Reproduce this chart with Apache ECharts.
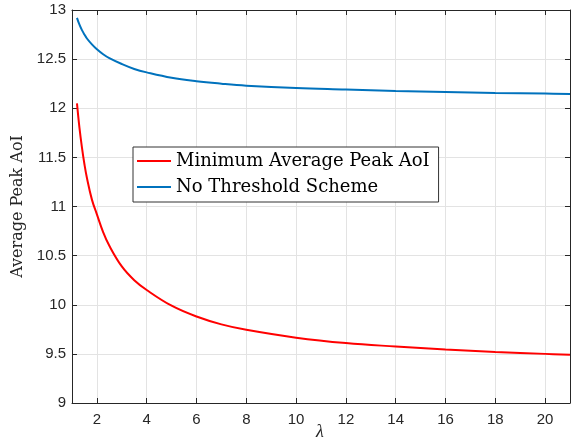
<!DOCTYPE html>
<html>
<head>
<meta charset="utf-8">
<script src="https://cdn.jsdelivr.net/npm/echarts@6/dist/echarts.min.js"></script>
<style>html,body{margin:0;padding:0;background:#fff;overflow:hidden}#c{width:576px;height:441px}</style>
</head>
<body>
<div id="c"></div>
<script>
var lambdaVals = [1.2, 1.3, 1.4, 1.5, 1.6, 1.8, 2, 2.25, 2.5, 3, 3.5, 4, 5, 6, 7, 8, 10, 12, 14, 16, 18, 20, 21];
var minAvgPeak = [12.05, 11.80, 11.60, 11.43, 11.29, 11.07, 10.92, 10.74, 10.60, 10.39, 10.25, 10.15, 9.99, 9.88, 9.80, 9.745, 9.665, 9.61, 9.575, 9.545, 9.52, 9.50, 9.49];
var noThreshold = [12.92, 12.85, 12.795, 12.75, 12.71, 12.65, 12.60, 12.55, 12.51, 12.45, 12.40, 12.365, 12.31, 12.275, 12.25, 12.23, 12.205, 12.19, 12.175, 12.165, 12.155, 12.15, 12.145];
var xTicks = [2, 4, 6, 8, 10, 12, 14, 16, 18, 20];
var seriesNames = ['Minimum Average Peak AoI', 'No Threshold Scheme'];
var xAxisTitle = 'λ';
var yAxisTitle = 'Average Peak AoI';

function pairs(xs, ys) { return xs.map(function (x, i) { return [x, ys[i]]; }); }

var axisColor = '#262626';
var gridColor = '#e3e3e3';
var serif = 'DejaVu Serif, Liberation Serif, serif';
var labelFont = { fontFamily: 'Liberation Sans, Arial, sans-serif', fontSize: 15, color: axisColor };

var chart = echarts.init(document.getElementById('c'), null, { renderer: 'canvas', width: 576, height: 441 });
chart.setOption({
  animation: false,
  backgroundColor: '#fff',
  grid: { left: 72, right: 6, top: 10, bottom: 38, containLabel: false, outerBoundsMode: 'none' },
  graphic: [{
    type: 'text', left: 316, top: 423,
    style: { text: xAxisTitle, fontFamily: 'Liberation Serif, serif', fontStyle: 'italic', fontSize: 18, fill: axisColor }
  }],
  legend: {
    orient: 'vertical', left: 133, top: 147,
    icon: 'rect', itemWidth: 34, itemHeight: 2, itemGap: 4,
    padding: [3, 9, 4, 4],
    backgroundColor: '#fff', borderColor: '#333', borderWidth: 1,
    textStyle: { fontFamily: serif, fontSize: 18, color: '#000', lineHeight: 22 },
    data: seriesNames
  },
  xAxis: [{
    type: 'value', min: 1, max: 21,
    axisLine: { show: true, onZero: false, lineStyle: { color: axisColor, width: 1 } },
    axisTick: { show: true, inside: true, length: 5, customValues: xTicks, lineStyle: { color: axisColor } },
    axisLabel: Object.assign({ customValues: xTicks, margin: 9 }, labelFont),
    splitLine: { show: true, lineStyle: { color: gridColor, width: 1 } }
  }, {
    type: 'value', min: 1, max: 21, position: 'top',
    axisLine: { show: true, onZero: false, lineStyle: { color: axisColor, width: 1 } },
    axisTick: { show: true, inside: true, length: 5, customValues: xTicks, lineStyle: { color: axisColor } },
    axisLabel: { show: false },
    splitLine: { show: false }
  }],
  yAxis: [{
    type: 'value', min: 9, max: 13, interval: 0.5,
    name: yAxisTitle, nameLocation: 'middle', nameGap: 44,
    nameTextStyle: { fontFamily: serif, fontSize: 16, color: axisColor },
    axisLine: { show: true, onZero: false, lineStyle: { color: axisColor, width: 1 } },
    axisTick: { show: true, inside: true, length: 5, lineStyle: { color: axisColor } },
    axisLabel: Object.assign({ margin: 6 }, labelFont),
    splitLine: { show: true, lineStyle: { color: gridColor, width: 1 } }
  }, {
    type: 'value', min: 9, max: 13, interval: 0.5, position: 'right',
    axisLine: { show: true, onZero: false, lineStyle: { color: axisColor, width: 1 } },
    axisTick: { show: true, inside: true, length: 5, lineStyle: { color: axisColor } },
    axisLabel: { show: false },
    splitLine: { show: false }
  }],
  series: [{
    name: seriesNames[0], type: 'line', smooth: 0.4, symbol: 'none',
    xAxisIndex: 0, yAxisIndex: 0,
    lineStyle: { color: '#ff0000', width: 2 }, itemStyle: { color: '#ff0000' },
    data: pairs(lambdaVals, minAvgPeak)
  }, {
    name: seriesNames[1], type: 'line', smooth: 0.4, symbol: 'none',
    xAxisIndex: 0, yAxisIndex: 0,
    lineStyle: { color: '#0072bd', width: 2 }, itemStyle: { color: '#0072bd' },
    data: pairs(lambdaVals, noThreshold)
  }]
});
</script>
</body>
</html>
